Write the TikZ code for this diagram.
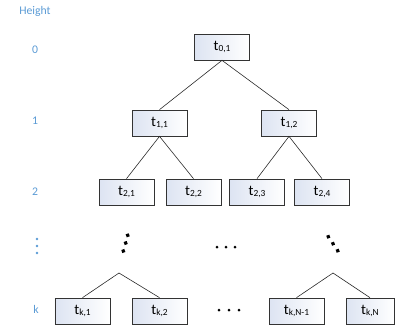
\documentclass[tikz,border=0pt]{standalone}
\usepackage{fontspec}
\setmainfont{Carlito}
\usepackage{tikz}

\definecolor{lvlblue}{HTML}{5B9BD5}
\definecolor{boxshade}{HTML}{DDE4F2}

\newcommand{\tsub}[1]{{\fontsize{12.5}{14}\selectfont t}\raisebox{-0.2ex}{\fontsize{8}{9}\selectfont #1}}

\tikzset{
  tbox/.style={draw=black!80, line width=0.6pt, minimum width=1.65cm, minimum height=0.78cm,
    inner sep=0pt, shading angle=-60, left color=boxshade, right color=white},
  lvl/.style={draw=none, text=lvlblue, font=\fontsize{10}{12}\selectfont},
  edge/.style={line width=0.5pt, black!85}
}

\begin{document}
\begin{tikzpicture}[x=0.03cm, y=-0.03cm]
\useasboundingbox (0,0) rectangle (396,331);

% level labels
\node[lvl] (hgt) at (35,11) {Height};
\node[lvl] (h0) at (35,50) {0};
\node[lvl] (h1) at (35,121) {1};
\node[lvl] (h2) at (35,192) {2};
\node[lvl] (hk) at (36,309) {k};
\foreach \y in {239,246,253}
  \fill[lvlblue] (37,\y) circle (1.4);

% tree
\node[tbox] (t01) at (222,47) {\tsub{0,1}};

\node[tbox] (t11) at (159.5,123) {\tsub{1,1}};
\node[tbox] (t12) at (289,123) {\tsub{1,2}};

\node[tbox] (t21) at (126.5,192) {\tsub{2,1}};
\node[tbox] (t22) at (193.5,192) {\tsub{2,2}};
\node[tbox] (t23) at (257,192) {\tsub{2,3}};
\node[tbox] (t24) at (322,192) {\tsub{2,4}};

\node[tbox] (tk1) at (82.5,311) {\tsub{k,1}};
\node[tbox] (tk2) at (159.5,311) {\tsub{k,2}};
\node[tbox] (tkm) at (296.5,311) {\tsub{k,N-1}};
\node[tbox, minimum width=1.44cm] (tkn) at (370,311) {\tsub{k,N}};

\coordinate (apl) at (119,273);
\coordinate (apr) at (333,273);

\draw[edge] (t11.north) -- (t01.south) -- (t12.north);
\draw[edge] (t21.north) -- (t11.south) -- (t22.north);
\draw[edge] (t23.north) -- (t12.south) -- (t24.north);
\draw[edge] (tk1.north) -- (apl) -- (tk2.north);
\draw[edge] (tkm.north) -- (apr) -- (tkn.north);

% dots
\foreach \x/\y in {127.7/235.3, 125.7/243, 123.3/251, 328.3/236.7, 333/243.7, 337.7/250.7}
  \fill[rotate around={20:(\x,\y)}] (\x-1.6,\y-1.6) rectangle (\x+1.6,\y+1.6);
\foreach \x in {217,226,235}
  \fill (\x,247) circle (1.5);
\foreach \x in {219,229,239}
  \fill (\x,310) circle (1.5);
\end{tikzpicture}
\end{document}
